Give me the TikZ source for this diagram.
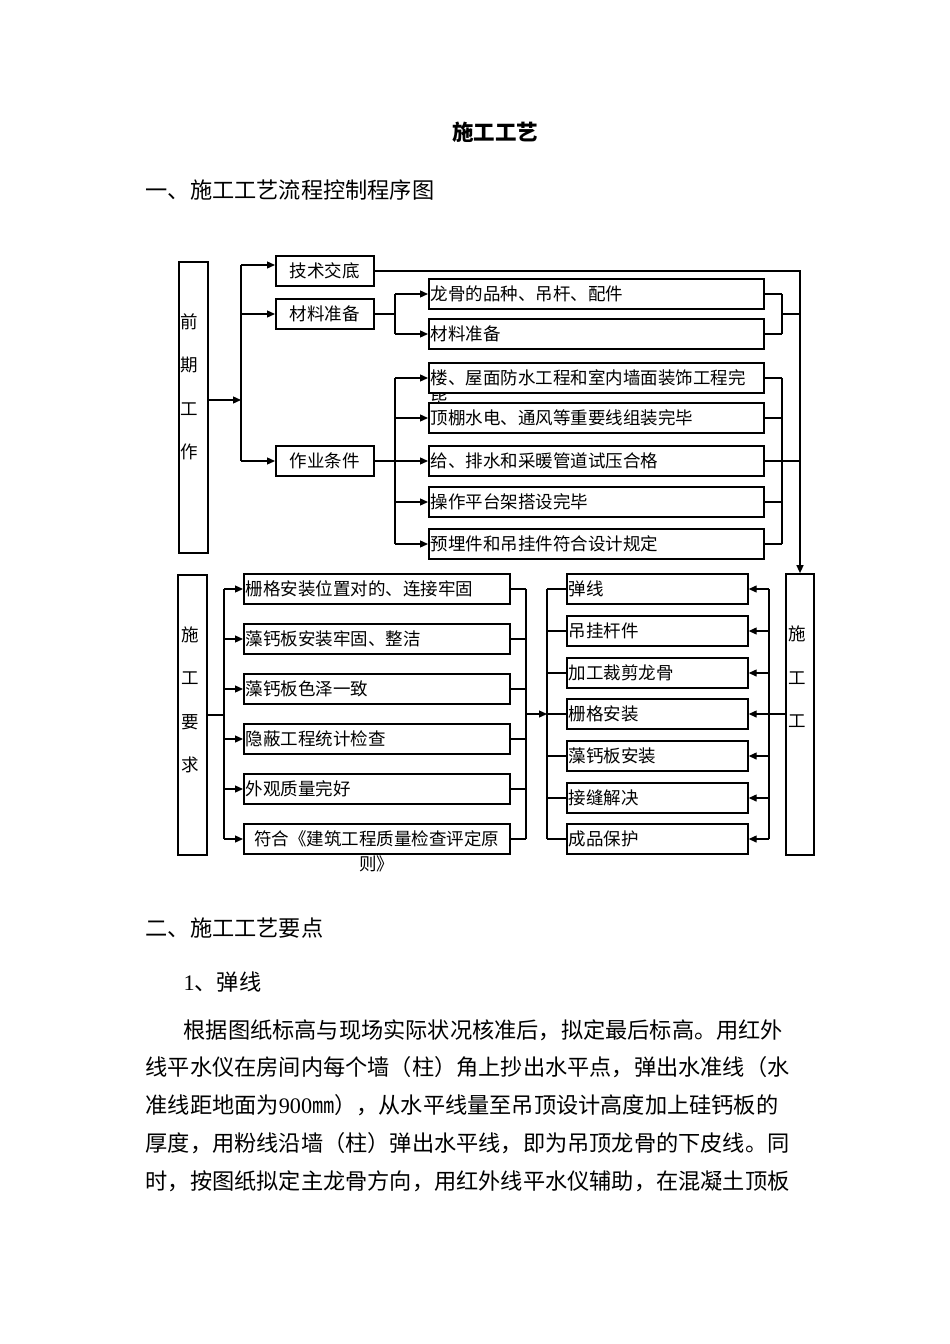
\documentclass[tikz,border=0pt]{standalone}
\usepackage{fontspec}
\setmainfont{Noto Sans CJK SC}
\newfontfamily\digitfont{Liberation Serif}
\usetikzlibrary{arrows.meta}

\newcommand\boxfont{\fontsize{17.5}{22}\selectfont}
\newcommand\bodyfont{\fontsize{22.2}{26}\selectfont}

\begin{document}
\begin{tikzpicture}[x=1pt,y=-1pt,line width=1.3pt,
  >={Triangle[length=8pt,width=7pt]},
  frame/.style={draw,line width=1.7pt,fill=white,inner sep=0pt,minimum height=30pt},
  item/.style={frame,anchor=west,text width=#1,inner xsep=2pt,align=left,font=\boxfont},
  head/.style={frame,anchor=west,minimum width=98pt,font=\boxfont},
  pillar/.style={frame,minimum width=29pt},
  stack/.style={font=\fontsize{17.5}{43.5}\selectfont,align=center,inner sep=0pt},
  prose/.style={anchor=west,inner sep=0pt,font=\bodyfont}]
\useasboundingbox (0,0) rectangle (950,1344);

\node[font=\fontsize{21.5}{24}\selectfont\bfseries] (title) at (495,132) {施工工艺};
\node[prose] (sec1) at (145,190) {一、施工工艺流程控制程序图};

% preparation
\node[pillar,minimum height=291pt] (qianqi) at (193.5,407.5) {};
\node[stack] (qianqiT) at (189,387) {前\\期\\工\\作};
\node[head] (jishu) at (275,271) {技术交底};
\node[head] (cailiao) at (275,314) {材料准备};
\node[head] (zuoye) at (275,461) {作业条件};
\node[item=331pt] (longgu) at (428,294) {龙骨的品种、吊杆、配件};
\node[item=331pt] (cailiaoB) at (428,334) {材料准备};
\node[item=331pt] (lou) at (428,378) {楼、屋面防水工程和室内墙面装饰工程完};
\node[font=\boxfont,inner sep=0pt] (louB) at (439,401) {毕};
\node[item=331pt] (dingpeng) at (428,418) {顶棚水电、通风等重要线组装完毕};
\node[item=331pt] (gei) at (428,461) {给、排水和采暖管道试压合格};
\node[item=331pt] (caozuo) at (428,502) {操作平台架搭设完毕};
\node[item=331pt] (yumai) at (428,544) {预埋件和吊挂件符合设计规定};

% requirements
\node[pillar,minimum height=280pt] (yaoqiu) at (192.5,715) {};
\node[stack] (yaoqiuT) at (190,700) {施\\工\\要\\求};
\node[item=262pt] (zhage) at (243,589) {栅格安装位置对的、连接牢固};
\node[item=262pt] (laogu) at (243,639) {藻钙板安装牢固、整洁};
\node[item=262pt] (sezhe) at (243,689) {藻钙板色泽一致};
\node[item=262pt] (yinbi) at (243,739) {隐蔽工程统计检查};
\node[item=262pt] (waiguan) at (243,789) {外观质量完好};
\node[item=262pt,align=center,
  label={[name=fuheB,font=\boxfont,inner sep=0pt]below:则》}] (fuhe) at (243,839) {符合《建筑工程质量检查评定原};

% construction steps
\node[item=177pt] (tanxian) at (566,589) {弹线};
\node[item=177pt] (diaogua) at (566,631) {吊挂杆件};
\node[item=177pt] (jiagong) at (566,673) {加工裁剪龙骨};
\node[item=177pt] (anzhuang) at (566,714) {栅格安装};
\node[item=177pt] (zaogai) at (566,756) {藻钙板安装};
\node[item=177pt] (jiefeng) at (566,798) {接缝解决};
\node[item=177pt] (baohu) at (566,839) {成品保护};
\node[pillar,minimum width=28pt,minimum height=281pt] (shigong) at (800,714.5) {};
\node[stack] (shigongT) at (797,677) {施\\工\\工};

% buses
\coordinate (busA) at (241,400);
\coordinate (jtop) at (241,265);
\coordinate (busB) at (395,0);
\coordinate (busC) at (782,0);
\coordinate (busD) at (800,0);
\coordinate (busE) at (224,0);
\coordinate (busF) at (526,0);
\coordinate (busG) at (547,0);
\coordinate (busH) at (769,0);

\draw[->] (qianqi.east |- busA) -- (busA);
\draw (jtop) -- (busA |- zuoye);
\draw[->] (jtop) -- (jishu.west |- jtop);
\draw[->] (busA |- cailiao) -- (cailiao.west);
\draw[->] (busA |- zuoye) -- (zuoye.west);

\draw (cailiao.east) -- (busB |- cailiao);
\draw (busB |- longgu) -- (busB |- cailiaoB);
\foreach \n in {longgu,cailiaoB} \draw[->] (busB |- \n) -- (\n.west);
\draw (zuoye.east) -- (busB |- zuoye);
\draw (busB |- lou) -- (busB |- yumai);
\foreach \n in {lou,dingpeng,gei,caozuo,yumai} \draw[->] (busB |- \n) -- (\n.west);

\foreach \n in {longgu,cailiaoB,lou,dingpeng,gei,caozuo,yumai} \draw (\n.east) -- (busC |- \n);
\draw (busC |- longgu) -- (busC |- cailiaoB);
\draw (busC |- lou) -- (busC |- yumai);
\draw (busC |- cailiao) -- (busD |- cailiao);
\draw (busC |- gei) -- (busD |- gei);
\draw[->] (jishu.east) -| (shigong.north);

\draw (yaoqiu.east) -- (busE |- yaoqiu);
\draw (busE |- zhage) -- (busE |- fuhe);
\foreach \n in {zhage,laogu,sezhe,yinbi,waiguan,fuhe} {
  \draw[->] (busE |- \n) -- (\n.west);
  \draw (\n.east) -- (busF |- \n);
}
\draw (busF |- zhage) -- (busF |- fuhe);
\draw[->] (busF |- anzhuang) -- (busG |- anzhuang);

\draw (busG |- tanxian) -- (busG |- baohu);
\draw (busH |- tanxian) -- (busH |- baohu);
\foreach \n in {tanxian,diaogua,jiagong,anzhuang,zaogai,jiefeng,baohu} \draw (busG |- \n) -- (\n.west);
\foreach \n in {tanxian,diaogua,jiagong,zaogai,jiefeng,baohu} \draw[->] (busH |- \n) -- (\n.east);
\draw[->] (shigong.west |- anzhuang) -- (anzhuang.east);

% text below
\node[prose] (sec2) at (145,928) {二、施工工艺要点};
\node[prose] (sub1) at (183,982) {{\digitfont 1}、弹线};
\node[prose] (line1) at (183,1030) {根据图纸标高与现场实际状况核准后，拟定最后标高。用红外};
\node[prose] (line2) at (145,1067) {线平水仪在房间内每个墙（柱）角上抄出水平点，弹出水准线（水};
\node[prose] (line3) at (145,1105) {准线距地面为{\digitfont 900}㎜），从水平线量至吊顶设计高度加上硅钙板的};
\node[prose] (line4) at (145,1143) {厚度，用粉线沿墙（柱）弹出水平线，即为吊顶龙骨的下皮线。同};
\node[prose] (line5) at (145,1181) {时，按图纸拟定主龙骨方向，用红外线平水仪辅助，在混凝土顶板};
\end{tikzpicture}
\end{document}
